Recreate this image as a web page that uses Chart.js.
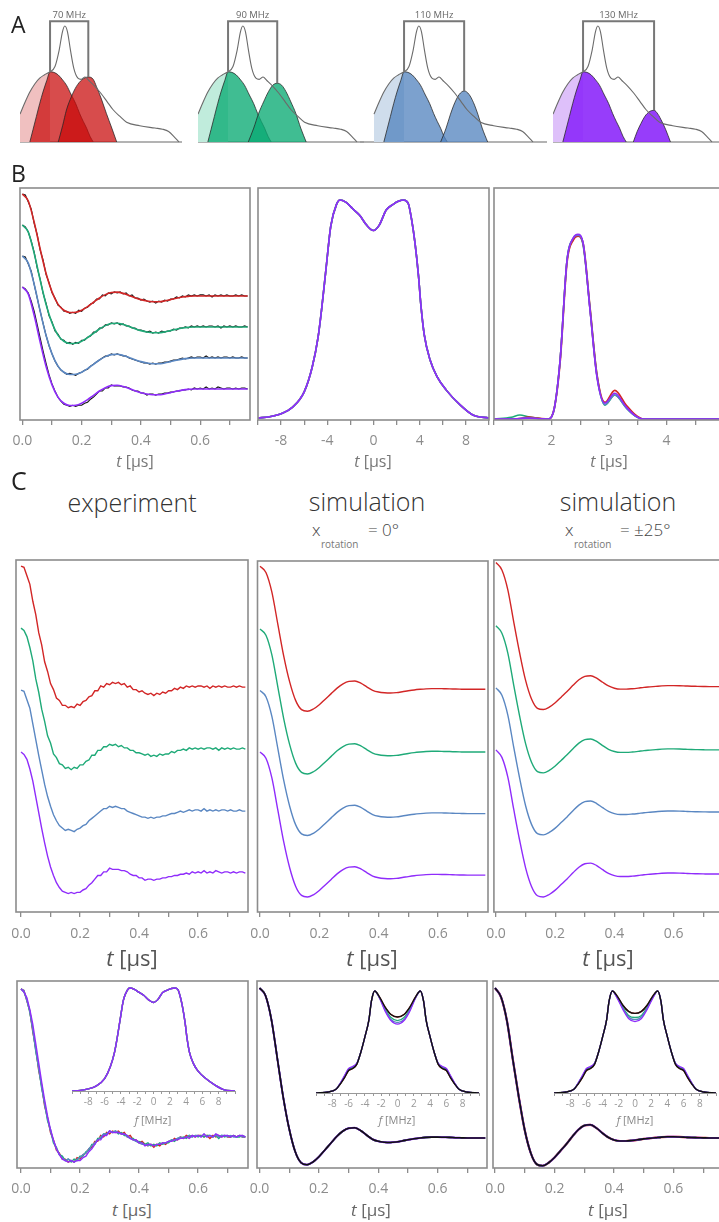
<!DOCTYPE html>
<html>
<head>
<meta charset="utf-8">
<script src="https://cdn.jsdelivr.net/npm/chart.js@4.4.1/dist/chart.umd.min.js"></script>
<style>
  body { margin: 0; width: 719px; height: 1222px; overflow: hidden; background: #fff; position: relative; font-family: "Open Sans", sans-serif; }
  .panel { position: absolute; }
  .txt { position: absolute; white-space: nowrap; line-height: 1; }
</style>
</head>
<body>
<script>
// ---------- panel A: spectrum and excitation profiles (x in MHz from spectrum max) ----------
const specX = [-82,-73,-64,-55,-46,-37,-27,-18,-10.4,-4.3,0,4.9,10.4,16.5,24,30,37,44,55,66,77,88,101,113,137,165,179,190,201,209];
const specY = [24,34,43,50,55,58,60.5,65,79,95,100,95,79,63.5,55,54,56,53,48,42,35,28,22,17,14,12,11,9,4,0];
const g1X = [-64,-58,-52,-46,-40,-33,-27,-20,-12,-4,3,12,20,27,34,40,46,52];
const g1Y = [0,11,22,33,43,53,60.5,60,57.8,53.5,49,40.5,33,24.7,17.5,11.8,5,0];
const g2RedX = [-12,-4,3,12,21,31,43,52,58,67,76,86,95];
const g2RedY = [0,14,27.6,39,47.7,53.5,56,54,47.7,37,24.7,12,0];
const g2GreenX = [10,20,29,38,47,55,63,71,79,88,97,106,116];
const g2GreenY = [0,12,24.7,34.5,43.4,49,50.6,49,43.4,34.5,24.7,12,0];
const g2BlueX = [40,50,58,66,74,83,92,100,108,116,126];
const g2BlueY = [0,12,24,34,41,44,41,34,24,12,0];
const g2PurpleX = [65,72,79,86,94,103,110,117,124,133];
const g2PurpleY = [0,9,16,22,26,27.3,24,18,11,0];
const separations = [70, 90, 110, 130];

// ---------- time traces ----------
const tSim = [0,0.02,0.04,0.06,0.08,0.10,0.12,0.14,0.16,0.18,0.20,0.22,0.24,0.26,0.28,0.30,0.32,0.34,0.36,0.38,0.40,0.42,0.44,0.46,0.48,0.50,0.52,0.54,0.56,0.58,0.60,0.62,0.64,0.66,0.68,0.70,0.72,0.74,0.76];
const deerFit = [1,0.93,0.72,0.46,0.22,0.04,-0.08,-0.14,-0.162,-0.16,-0.14,-0.105,-0.062,-0.02,0.013,0.033,0.037,0.025,0.005,-0.017,-0.036,-0.05,-0.057,-0.057,-0.049,-0.036,-0.022,-0.011,-0.004,0,0,0,0,0,0,0,0,0,0];
const sim0 = [1,0.95,0.79,0.53,0.27,0.06,-0.09,-0.165,-0.178,-0.16,-0.125,-0.08,-0.035,0.01,0.045,0.065,0.068,0.05,0.02,-0.008,-0.022,-0.028,-0.03,-0.027,-0.02,-0.012,-0.005,0,0.004,0.006,0.006,0.005,0.004,0.002,0.001,0,0,0,0];
const sim25 = [1,0.94,0.78,0.52,0.27,0.05,-0.10,-0.175,-0.185,-0.165,-0.13,-0.085,-0.04,0.01,0.055,0.083,0.088,0.068,0.035,0.005,-0.013,-0.02,-0.02,-0.017,-0.012,-0.006,-0.002,0.002,0.006,0.008,0.008,0.007,0.005,0.003,0.002,0.001,0,0,0];

const tExp = [0,0.01,0.02,0.03,0.04,0.05,0.06,0.07,0.08,0.09,
  0.10,0.11,0.12,0.13,0.14,0.15,0.16,0.17,0.18,0.19,
  0.20,0.21,0.22,0.23,0.24,0.25,0.26,0.27,0.28,0.29,
  0.30,0.31,0.32,0.33,0.34,0.35,0.36,0.37,0.38,0.39,
  0.40,0.41,0.42,0.43,0.44,0.45,0.46,0.47,0.48,0.49,
  0.50,0.51,0.52,0.53,0.54,0.55,0.56,0.57,0.58,0.59,
  0.60,0.61,0.62,0.63,0.64,0.65,0.66,0.67,0.68,0.69,
  0.70,0.71,0.72,0.73,0.74,0.75,0.76];
const expRed = [1.00,0.99,0.92,0.85,0.71,0.60,0.45,0.35,0.21,0.13,
  0.03,-0.02,-0.09,-0.11,-0.15,-0.15,-0.17,-0.16,-0.17,-0.14,
  -0.15,-0.12,-0.11,-0.08,-0.07,-0.03,-0.03,0.01,0.00,0.03,
  0.02,0.04,0.03,0.04,0.02,0.03,0.00,0.01,-0.02,-0.02,
  -0.04,-0.03,-0.05,-0.06,-0.05,-0.07,-0.05,-0.06,-0.04,-0.05,
  -0.03,-0.03,-0.01,-0.02,0.00,-0.01,0.01,0.00,0.01,0.00,
  0.01,0.01,0.00,0.01,-0.01,0.01,0.00,0.01,0.00,0.01,
  0.00,0.00,0.01,0.00,0.01,0.00,0.00];
const expGreen = [1.00,0.98,0.93,0.84,0.73,0.58,0.47,0.33,0.23,0.11,
  0.05,-0.04,-0.07,-0.12,-0.13,-0.16,-0.15,-0.17,-0.15,-0.16,
  -0.13,-0.13,-0.10,-0.09,-0.05,-0.05,-0.01,-0.01,0.02,0.02,
  0.04,0.03,0.04,0.02,0.03,0.01,0.01,-0.01,-0.01,-0.03,
  -0.03,-0.04,-0.05,-0.04,-0.06,-0.05,-0.06,-0.04,-0.05,-0.04,
  -0.04,-0.02,-0.03,-0.01,-0.01,0.00,-0.01,0.01,0.00,0.01,
  0.00,0.01,0.00,0.01,0.01,0.00,0.01,-0.01,0.01,0.00,
  0.01,0.00,0.01,0.00,0.00,0.01,0.00];
const expBlue = [1.00,0.99,0.92,0.85,0.72,0.59,0.46,0.34,0.22,0.12,
  0.04,-0.03,-0.08,-0.12,-0.14,-0.16,-0.15,-0.16,-0.17,-0.15,
  -0.14,-0.12,-0.11,-0.08,-0.06,-0.04,-0.02,0.00,0.02,0.02,
  0.04,0.03,0.04,0.03,0.02,0.02,0.00,-0.01,-0.02,-0.03,
  -0.04,-0.05,-0.05,-0.06,-0.05,-0.06,-0.05,-0.05,-0.04,-0.04,
  -0.03,-0.02,-0.02,-0.01,0.00,-0.01,0.00,0.01,0.00,0.01,
  0.01,0.00,0.02,0.00,0.01,0.00,0.01,0.00,0.01,0.01,
  0.00,0.01,0.00,0.00,0.01,0.00,0.00];
const expPurple = [1.00,0.98,0.94,0.86,0.76,0.63,0.50,0.37,0.25,0.14,
  0.05,-0.02,-0.08,-0.12,-0.15,-0.16,-0.17,-0.16,-0.17,-0.16,
  -0.16,-0.14,-0.13,-0.10,-0.08,-0.05,-0.02,-0.02,0.01,0.01,
  0.04,0.03,0.03,0.03,0.02,0.02,0.01,-0.01,-0.02,-0.02,
  -0.04,-0.04,-0.06,-0.05,-0.05,-0.06,-0.05,-0.05,-0.04,-0.04,
  -0.03,-0.03,-0.02,-0.02,-0.01,-0.01,0.00,-0.01,0.01,0.00,
  0.01,0.00,0.02,0.00,0.01,0.00,0.02,0.01,0.00,0.01,
  0.01,0.00,0.01,0.00,0.01,0.01,0.00];

// ---------- spectra (Pake patterns) ----------
const pakeX = [-10,-9,-8,-7,-6,-5.3,-4.8,-4.5,-4.1,-3.7,-3.2,-2.9,-2.4,-1.8,-1.2,-0.6,0,0.5,1.1,1.7,2.2,2.6,3.0,3.3,3.6,3.9,4.1,4.4,4.9,5.5,6.3,7.5,8.6,10];
const pakeY = [0,0.006,0.02,0.05,0.12,0.235,0.37,0.495,0.69,0.88,0.98,1.0,0.99,0.96,0.93,0.885,0.86,0.885,0.954,0.98,0.995,1.0,0.985,0.91,0.80,0.65,0.52,0.38,0.266,0.19,0.128,0.06,0.014,0];
const simPakeX = [-10,-8.5,-7.5,-7,-6.5,-6,-5.5,-5,-4.5,-4,-3.5,-3.2,-2.8,-2.2,-1.5,-0.8,0,0.8,1.5,2.2,2.8,3.2,3.5,4,4.5,5,5.5,6,6.5,7,7.5,8.5,10];
const pake0Black = [0,0.01,0.04,0.09,0.15,0.22,0.24,0.28,0.4,0.55,0.72,0.9,1.0,0.94,0.84,0.77,0.745,0.77,0.84,0.94,1.0,0.9,0.72,0.55,0.4,0.28,0.24,0.22,0.15,0.09,0.04,0.01,0];
const pake0Green = [0,0.01,0.04,0.095,0.16,0.23,0.25,0.285,0.4,0.55,0.72,0.9,1.0,0.935,0.82,0.74,0.71,0.74,0.82,0.935,1.0,0.9,0.72,0.55,0.4,0.285,0.25,0.23,0.16,0.095,0.04,0.01,0];
const pake0Blue = [0,0.01,0.04,0.095,0.165,0.235,0.255,0.29,0.4,0.55,0.72,0.9,1.0,0.93,0.81,0.72,0.69,0.72,0.81,0.93,1.0,0.9,0.72,0.55,0.4,0.29,0.255,0.235,0.165,0.095,0.04,0.01,0];
const pake0Purple = [0,0.01,0.04,0.1,0.17,0.24,0.26,0.29,0.4,0.55,0.72,0.9,1.0,0.93,0.8,0.71,0.675,0.71,0.8,0.93,1.0,0.9,0.72,0.55,0.4,0.29,0.26,0.24,0.17,0.1,0.04,0.01,0];
const pake25Black = [0,0.01,0.04,0.09,0.15,0.22,0.24,0.28,0.4,0.55,0.72,0.9,1.0,0.95,0.86,0.8,0.78,0.8,0.86,0.95,1.0,0.9,0.72,0.55,0.4,0.28,0.24,0.22,0.15,0.09,0.04,0.01,0];
const pake25Green = [0,0.01,0.04,0.095,0.16,0.23,0.25,0.285,0.4,0.55,0.72,0.9,1.0,0.94,0.84,0.76,0.74,0.76,0.84,0.94,1.0,0.9,0.72,0.55,0.4,0.285,0.25,0.23,0.16,0.095,0.04,0.01,0];
const pake25Blue = [0,0.01,0.04,0.1,0.165,0.235,0.255,0.29,0.4,0.55,0.72,0.9,1.0,0.935,0.83,0.745,0.72,0.745,0.83,0.935,1.0,0.9,0.72,0.55,0.4,0.29,0.255,0.235,0.165,0.1,0.04,0.01,0];
const pake25Purple = [0,0.01,0.04,0.1,0.17,0.24,0.26,0.29,0.4,0.55,0.72,0.9,1.0,0.93,0.82,0.73,0.70,0.73,0.82,0.93,1.0,0.9,0.72,0.55,0.4,0.29,0.26,0.24,0.17,0.1,0.04,0.01,0];

// ---------- distance distributions ----------
const distX = [1.0,1.3,1.45,1.6,1.8,1.95,2.05,2.15,2.27,2.38,2.46,2.55,2.67,2.79,2.93,3.1,3.3,3.45,3.6,4.0,5.0];
const distRed = [0,0,0.003,0.01,0.003,0,0.06,0.31,0.85,0.97,0.99,0.95,0.6,0.24,0.09,0.155,0.075,0.025,0,0,0];
const distGreen = [0,0.01,0.022,0.012,0.003,0,0.06,0.32,0.86,0.975,0.99,0.94,0.6,0.24,0.075,0.13,0.06,0.018,0,0,0];
const distBlue = [0,0,0.003,0.006,0.002,0,0.06,0.32,0.86,0.98,0.995,0.95,0.59,0.23,0.078,0.13,0.06,0.018,0,0,0];
const distPurple = [0,0,0.003,0.005,0.002,0,0.06,0.32,0.86,0.98,1.0,0.95,0.59,0.23,0.086,0.14,0.065,0.02,0,0,0];

// ---------- styles ----------
const RED = '#d22626', GREEN = '#1faa78', BLUE = '#5a87c2', PURPLE = '#8f2cfb';
const GRAY = '#8c8c8c';
Chart.defaults.font.family = 'Open Sans';

// draws the box around a plot area
const framePlugin = {
  id: 'frame',
  defaults: { color: null, width: 1.6 },
  afterDatasetsDraw(chart, args, opts) {
    if (!opts.color) return;
    const a = chart.chartArea, ctx = chart.ctx;
    ctx.save();
    ctx.strokeStyle = opts.color;
    ctx.lineWidth = opts.width;
    ctx.strokeRect(a.left, a.top, a.right - a.left, a.bottom - a.top);
    ctx.restore();
  }
};
// "70 MHz" style label over the bracket
const bracketLabel = {
  id: 'bracketLabel',
  defaults: { text: null },
  afterDatasetsDraw(chart, args, opts) {
    if (!opts.text) return;
    const ctx = chart.ctx;
    ctx.save();
    ctx.font = '9.5px "Open Sans"';
    ctx.fillStyle = '#666';
    ctx.textAlign = 'center';
    ctx.textBaseline = 'bottom';
    ctx.fillText(opts.text, chart.scales.x.getPixelForValue(opts.x), chart.scales.y.getPixelForValue(opts.y) - 1);
    ctx.restore();
  }
};
Chart.register(framePlugin, bracketLabel);

function xy(xs, ys, off) {
  off = off || 0;
  return xs.map((x, i) => ({ x: x, y: ys[i] + off }));
}

function line(data, color, width, smooth) {
  return { data: data, borderColor: color, borderWidth: width, pointRadius: 0, fill: false,
           tension: 0, cubicInterpolationMode: smooth ? 'monotone' : 'default' };
}

function xAxis(min, max, step, labelFn, size, pad, tickLen, axisH, border) {
  return {
    type: 'linear', min: min, max: max,
    border: { display: !!border, color: '#999', width: 1 },
    grid: { drawOnChartArea: false, drawTicks: true, tickLength: tickLen, color: border ? '#999' : GRAY, lineWidth: border ? 1 : 1.3 },
    ticks: { stepSize: step, includeBounds: false, autoSkip: false, maxRotation: 0, maxTicksLimit: 60,
             padding: pad, color: border ? '#999' : GRAY, font: { size: size }, callback: labelFn },
    afterFit: s => { s.height = axisH; }
  };
}

// box = plot area [left, top, right, bottom] in page pixels
function makeChart(box, pad, axisH, datasets, scales, plugins) {
  const div = document.createElement('div');
  div.className = 'panel';
  div.style.left = (box[0] - pad.l) + 'px';
  div.style.top = (box[1] - pad.t) + 'px';
  div.style.width = (box[2] - box[0] + pad.l + pad.r) + 'px';
  div.style.height = (box[3] - box[1] + pad.t + axisH) + 'px';
  const cv = document.createElement('canvas');
  div.appendChild(cv);
  document.body.appendChild(div);
  return new Chart(cv, {
    type: 'line',
    data: { datasets: datasets },
    options: {
      responsive: true, maintainAspectRatio: false, animation: false, devicePixelRatio: 1, events: [],
      layout: { padding: { left: pad.l, right: pad.r, top: pad.t, bottom: 0 } },
      scales: scales,
      plugins: Object.assign({ legend: { display: false }, tooltip: { enabled: false } }, plugins)
    }
  });
}

function addText(html, x, baseline, size, color, opts) {
  opts = opts || {};
  const d = document.createElement('div');
  d.className = 'txt';
  d.innerHTML = html;
  d.style.fontSize = size + 'px';
  d.style.color = color;
  d.style.top = (baseline - 0.888 * size) + 'px';
  d.style.left = x + 'px';
  if (opts.weight) d.style.fontWeight = opts.weight;
  if (opts.center) d.style.transform = 'translateX(-50%)';
  document.body.appendChild(d);
}

// ---------- panel A ----------
const PXM = 0.5464;      // pixels per MHz
const BR_TOP = 104;
const aPanels = [
  { g2x: g2RedX, g2y: g2RedY, fill: 'rgba(200,10,10,0.73)', light: 'rgb(240,192,192)', left: 20, width: 162, specLeft: 20 },
  { g2x: g2GreenX, g2y: g2GreenY, fill: 'rgba(10,170,115,0.78)', light: 'rgb(192,236,220)', left: 198, width: 166, specLeft: 198 },
  { g2x: g2BlueX, g2y: g2BlueY, fill: 'rgba(80,130,190,0.75)', light: 'rgb(207,221,236)', left: 360, width: 187, specLeft: 374 },
  { g2x: g2PurpleX, g2y: g2PurpleY, fill: 'rgba(140,40,250,0.9)', light: 'rgb(222,192,250)', left: 553, width: 166, specLeft: 553 }
];
aPanels.forEach((p, i) => {
  const g1peak = Math.max(...g1Y);
  const L = g1X[g1Y.indexOf(g1peak)];
  const R = L + separations[i];
  const g2peak = Math.max(...p.g2y);
  const xmin = specX[0] - (p.specLeft - p.left) / PXM;
  const xmax = xmin + p.width / PXM;
  const outline = 'rgba(35,35,35,0.85)';
  makeChart([p.left, 6, p.left + p.width, 146], { l: 0, r: 0, t: 0 }, 0, [
    line([{ x: L, y: g1peak }, { x: L, y: BR_TOP }, { x: R, y: BR_TOP }, { x: R, y: g2peak }], '#777', 2, false),
    line(xy(specX, specY), '#6b6b6b', 1.1, true),
    Object.assign(line(xy(p.g2x, p.g2y), outline, 0.9, true), { fill: 'origin', backgroundColor: p.fill }),
    Object.assign(line(xy(g1X, g1Y), outline, 0.9, true), { fill: 'origin', backgroundColor: p.fill }),
    Object.assign(line(xy(specX, specY).filter(pt => pt.x <= L), 'rgba(0,0,0,0)', 0, true), { fill: 'origin', backgroundColor: p.light }),
    line([{ x: xmin, y: 0 }, { x: xmax, y: 0 }], '#9a9a9a', 1.5, false)
  ], {
    x: { type: 'linear', display: false, min: xmin, max: xmax },
    y: { display: false, min: -3.45, max: 117.2 }
  }, { frame: false, bracketLabel: { text: separations[i] + ' MHz', x: (L + R) / 2, y: BR_TOP } });
});

// ---------- tick label helpers ----------
const tLab = v => (Math.round(v * 10) % 2 === 0 ? v.toFixed(1) : '');
const b2Lab = v => (Math.round(v) % 4 === 0 && Math.abs(v) < 10 ? String(Math.round(v)) : '');
const b3Lab = v => (Math.abs(v - Math.round(v)) < 1e-6 && v > 1.5 && v < 4.5 ? String(Math.round(v)) : '');
const fLab = v => (Math.round(v) % 2 === 0 && Math.abs(v) < 9 ? String(Math.round(v)) : '');
const PAD = { l: 16, r: 16, t: 2 };
const frame = { frame: { color: GRAY, width: 1.6 } };
const noY = (min, max) => ({ display: false, min: min, max: max });

// ---------- panel B ----------
const bOff = [0.912, 0.608, 0.304, 0];
const expSets = [expRed, expGreen, expBlue, expPurple];
const cols = [RED, GREEN, BLUE, PURPLE];
makeChart([20, 188, 250, 420], PAD, 32,
  cols.map((c, i) => line(xy(tSim, deerFit, bOff[i]), c, 1.6, true))
    .concat(expSets.map((s, i) => line(xy(tExp, s, bOff[i]), '#151515', 1.1, false))),
  { x: xAxis(-0.008, 0.768, 0.1, tLab, 14, 8, 5, 32), y: noY(-0.304, 1.97) }, frame);

makeChart([258, 188, 489, 420], PAD, 32,
  [PURPLE, BLUE, GREEN, RED].map(c => line(xy(pakeX, pakeY), c, 1.6, true)),
  { x: xAxis(-10, 10, 2, b2Lab, 14, 8, 5, 32), y: noY(-0.009, 1.055) }, frame);

makeChart([494, 188, 724, 420], PAD, 32, [
  line(xy(distX, distPurple), PURPLE, 1.6, true),
  line(xy(distX, distBlue), BLUE, 1.6, true),
  line(xy(distX, distRed), RED, 1.8, true),
  line(xy(distX, distGreen), GREEN, 1.6, true)
], { x: xAxis(1, 5, 0.5, b3Lab, 14, 8, 5, 32), y: noY(-0.005, 1.25) }, frame);

// ---------- panel C, stacked traces ----------
const cOff = [1.536, 1.024, 0.512, 0];
makeChart([16, 560, 248, 912], PAD, 32,
  expSets.map((s, i) => line(xy(tExp, s, cOff[i]), cols[i], 1.4, false)),
  { x: xAxis(-0.017, 0.769, 0.1, tLab, 14, 9, 5, 32), y: noY(-0.322, 2.587) }, frame);

const sOff = [1.51, 1.0, 0.5, 0];
makeChart([257, 561, 488, 912], PAD, 32,
  cols.map((c, i) => line(xy(tSim, sim0, sOff[i]), c, 1.4, true)),
  { x: xAxis(-0.0085, 0.769, 0.1, tLab, 14, 9, 5, 32), y: noY(-0.30, 2.553) }, frame);

makeChart([493, 560, 724, 912], PAD, 32,
  cols.map((c, i) => line(xy(tSim, sim25, sOff[i]), c, 1.4, true)),
  { x: xAxis(-0.007, 0.77, 0.1, tLab, 14, 9, 5, 32), y: noY(-0.306, 2.53) }, frame);

// ---------- panel C, overlays with spectra insets ----------
makeChart([17, 981, 248, 1168], PAD, 30, [
  line(xy(tExp, expPurple), PURPLE, 1.4, false),
  line(xy(tExp, expBlue), BLUE, 1.4, false),
  line(xy(tExp, expGreen), GREEN, 1.4, false),
  line(xy(tExp, expRed), RED, 1.4, false)
], { x: xAxis(-0.0135, 0.769, 0.1, tLab, 14, 8, 5, 30), y: noY(-0.21, 1.054) }, frame);

makeChart([257, 981, 487, 1168], PAD, 30, [
  line(xy(tSim, sim0), '#111', 1.6, true),
  line(xy(tSim, sim0), PURPLE, 1.9, true),
  line(xy(tSim, sim0), BLUE, 1.6, true),
  line(xy(tSim, sim0), GREEN, 1.6, true),
  line(xy(tSim, sim0), RED, 1.6, true)
], { x: xAxis(-0.0085, 0.766, 0.1, tLab, 14, 8, 5, 30), y: noY(-0.2, 1.047) }, frame);

makeChart([493, 981, 724, 1168], PAD, 30, [
  line(xy(tSim, sim25), '#111', 1.6, true),
  line(xy(tSim, sim25), PURPLE, 1.9, true),
  line(xy(tSim, sim25), BLUE, 1.6, true),
  line(xy(tSim, sim25), GREEN, 1.6, true),
  line(xy(tSim, sim25), RED, 2.2, true)
], { x: xAxis(-0.007, 0.77, 0.1, tLab, 14, 8, 5, 30), y: noY(-0.2, 1.047) }, frame);

const IPAD = { l: 10, r: 10, t: 0 };
makeChart([71.5, 980, 234.5, 1091], IPAD, 16,
  [PURPLE, BLUE, GREEN, RED].map(c => line(xy(pakeX, pakeY), c, 1.4, true)),
  { x: xAxis(-10, 10, 1, fLab, 10, 2, 3, 16, true), y: noY(0, 1.078) }, { frame: false });

makeChart([315.5, 982, 478.5, 1093], IPAD, 16, [
  line(xy(simPakeX, pake0Black), '#111', 1.4, true),
  line(xy(simPakeX, pake0Purple), PURPLE, 1.3, true),
  line(xy(simPakeX, pake0Blue), BLUE, 1.3, true),
  line(xy(simPakeX, pake0Green), GREEN, 1.3, true),
  line(xy(simPakeX, pake0Black), RED, 1.3, true)
], { x: xAxis(-10, 10, 1, fLab, 10, 2, 3, 16, true), y: noY(0, 1.088) }, { frame: false });

makeChart([554, 982, 716, 1093], IPAD, 16, [
  line(xy(simPakeX, pake25Black), '#111', 1.4, true),
  line(xy(simPakeX, pake25Purple), PURPLE, 1.3, true),
  line(xy(simPakeX, pake25Blue), BLUE, 1.3, true),
  line(xy(simPakeX, pake25Green), GREEN, 1.3, true),
  line(xy(simPakeX, pake25Black), RED, 1.3, true)
], { x: xAxis(-10, 10, 1, fLab, 10, 2, 3, 16, true), y: noY(0, 1.088) }, { frame: false });

// ---------- text ----------
addText('A', 11, 33, 23, '#222');
addText('B', 11, 182, 23, '#222');
addText('C', 11, 490, 25, '#222');

const tTitle = '<i>t</i> [µs]';
[135, 373, 609].forEach(x => addText(tTitle, x, 467, 16, '#777', { center: true }));
[132, 372, 608].forEach(x => addText(tTitle, x, 966, 22, '#555', { center: true }));
[132, 371, 608].forEach(x => addText(tTitle, x, 1216, 17, '#666', { center: true }));
[153, 397, 635].forEach(x => addText('<i>f</i> [MHz]', x, 1124, 11, '#888', { center: true }));

addText('experiment', 132, 512, 25, '#333', { center: true, weight: 300 });
addText('simulation', 367, 511, 25, '#333', { center: true, weight: 300 });
addText('simulation', 618, 511, 25, '#333', { center: true, weight: 300 });
addText('x', 312, 536, 17, '#444', { weight: 300 });
addText('= 0°', 368, 536, 17, '#444', { weight: 300 });
addText('rotation', 321, 548, 10, '#777');
addText('x', 565, 536, 17, '#444', { weight: 300 });
addText('= ±25°', 620, 536, 17, '#444', { weight: 300 });
addText('rotation', 574, 548, 10, '#777');
</script>
</body>
</html>
